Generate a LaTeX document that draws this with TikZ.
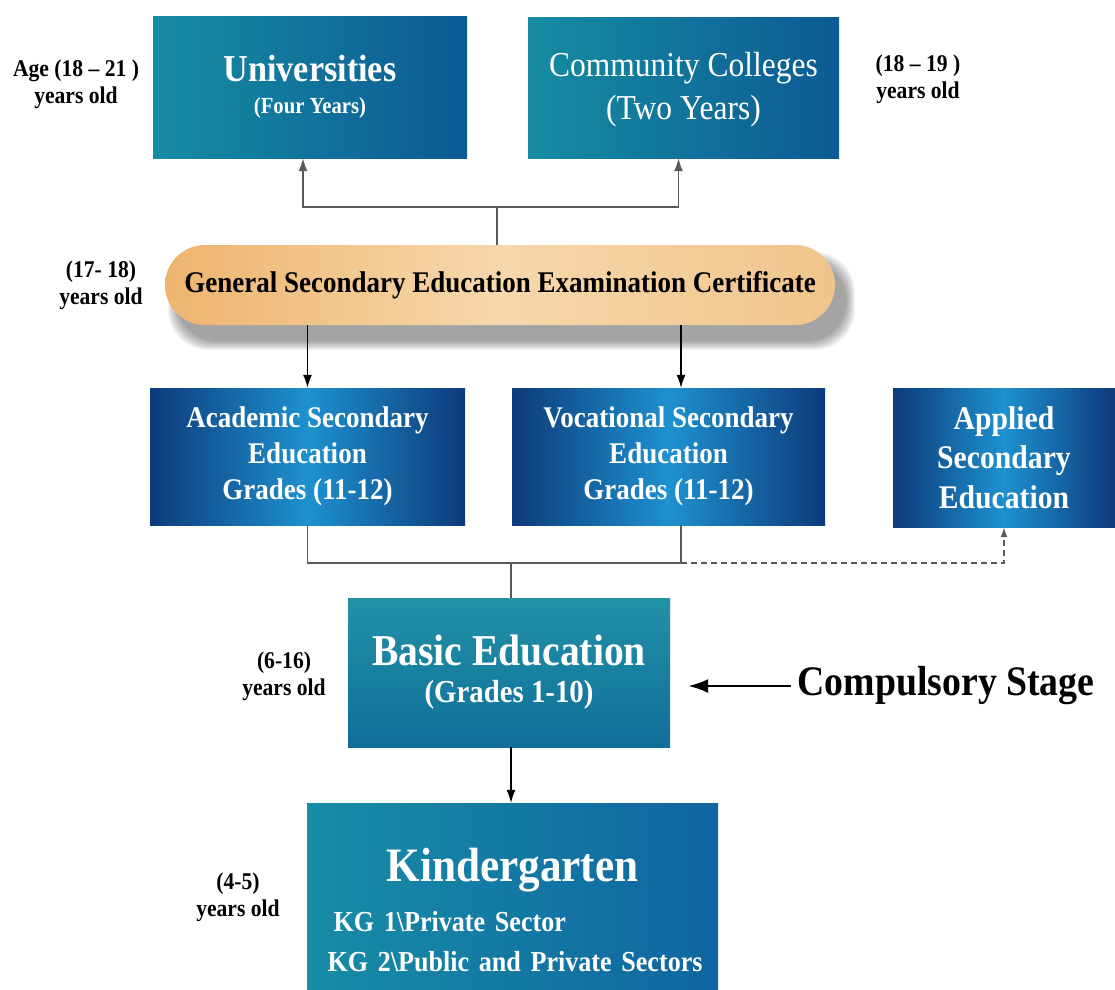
\documentclass[tikz,border=0pt]{standalone}
\usepackage{fontspec}
\setmainfont{Liberation Serif}[FakeStretch=0.9]
\usetikzlibrary{arrows.meta}
\definecolor{tealA}{RGB}{22,140,162}
\definecolor{blueA}{RGB}{12,90,148}
\definecolor{navyA}{RGB}{13,58,122}
\definecolor{skyA}{RGB}{30,145,207}
\definecolor{pillA}{RGB}{237,180,110}
\definecolor{pillB}{RGB}{247,216,172}
\definecolor{pillC}{RGB}{240,196,140}
\definecolor{lineA}{RGB}{90,90,90}
\newcommand{\fs}[1]{\fontsize{#1}{1.2\dimexpr#1pt\relax}\selectfont}
\begin{document}
\begin{tikzpicture}[x=1pt,y=-1pt,
   tealbox/.style={left color=tealA,right color=blueA,text=white,align=center,inner sep=0pt},
   navybox/.style={left color=navyA,right color=navyA,middle color=skyA,text=white,align=center,inner sep=0pt},
   age/.style={align=center,font=\bfseries\fs{24}},
   conn/.style={lineA,line width=1.5pt},
   tip/.style={-{Latex[length=13pt,width=9pt]}},
   arr/.style={black,line width=1.3pt,tip}]
   \useasboundingbox (0,0) rectangle (1115,989);
   % top level
   \node [tealbox,minimum width=314,minimum height=142,font=\bfseries\fs{38}] (univ) at (310,87)
      {Universities\\[-14pt]{\fs{23}(Four Years)}};
   \node [tealbox,minimum width=311,minimum height=141,font=\fs{35}] (coll) at (683.5,87.5)
      {Community Colleges\\[1pt](Two Years)\\[-38pt]};
   \node [age] (ageuniv) at (76,84) {Age (18 -- 21 )\\[-2pt]years old};
   \node [age] (agecoll) at (918,79) {(18 -- 19 )\\[-2pt]years old};
   % certificate, soft shadow first
   \foreach \i in {0,...,9}
      \fill [black,opacity=0.045,rounded corners=40]
         (168+\i,252+\i) rectangle (855-\i,350-\i);
   \node [rounded corners=40,left color=pillA,right color=pillC,middle color=pillB,
      minimum width=670,minimum height=80,inner sep=0pt,
      font=\bfseries\fs{30}] (cert) at (500,285)
      {General Secondary Education Examination Certificate};
   \node [age] (agecert) at (101,285) {(17- 18)\\[-2pt]years old};
   \coordinate (topsplit) at (497,207);
   \draw [conn] (cert.north -| topsplit) -- (topsplit);
   \draw [conn,tip] (topsplit) -| ([xshift=-7]univ.south);
   \draw [conn,tip] (topsplit) -| ([xshift=-5]coll.south);
   % secondary
   \node [navybox,minimum width=315,minimum height=137,font=\bfseries\fs{30}] (acad) at (307.5,456.5)
      {Academic Secondary\\Education\\Grades (11-12)};
   \node [navybox,minimum width=313,minimum height=137,font=\bfseries\fs{30}] (voc) at (668.5,456.5)
      {Vocational Secondary\\Education\\Grades (11-12)};
   \node [navybox,minimum width=222,minimum height=139,font=\bfseries\fs{33}] (appl) at (1004,457.5)
      {Applied\\Secondary\\Education};
   \coordinate (vocline) at (681,0);
   \draw [arr] (cert.south -| acad.north) -- (acad.north);
   \draw [arr] (cert.south -| vocline) -- (voc.north -| vocline);
   \coordinate (midjoin) at (511,563);
   \draw [conn] (acad.south) |- (midjoin);
   \draw [conn] (voc.south -| vocline) |- (midjoin);
   \draw [lineA,line width=1.5pt,dash pattern=on 6pt off 4pt,-{Latex[length=10pt,width=7pt]}]
      (midjoin -| vocline) -| (appl.south);
   % basic
   \node [top color=tealA!95!white,bottom color=blueA!60!tealA,text=white,align=center,inner sep=0pt,
      minimum width=322,minimum height=149,font=\bfseries\fs{44}] (basic) at (509,672.5)
      {Basic Education\\[-16pt]{\fs{32}(Grades 1-10)}};
   \draw [conn] (midjoin) -- (midjoin |- basic.north);
   \node [age] (agebasic) at (284,676) {(6-16)\\[-2pt]years old};
   \node [font=\bfseries\fs{42},inner sep=0pt] (comp) at (946,686) {Compulsory Stage};
   \draw [black,line width=2.5pt,-{Latex[length=20pt,width=14pt]},shorten >=18pt]
      ([xshift=-6]comp.west) -- (comp.west -| basic.east);
   % kindergarten
   \node [left color=tealA!90!skyA,right color=blueA!80!skyA,inner sep=0pt,
      minimum width=411,minimum height=186] (kinder) at (512.5,896) {};
   \node [text=white,align=left,text width=390,inner sep=0pt,font=\bfseries\fs{29}]
      (kindertext) at ([yshift=-14]kinder.center)
      {\makebox[\linewidth]{\fs{48}Kindergarten}\\[15pt]
       \mbox{\hspace*{16pt}KG 1\textbackslash Private Sector}\\[5pt]
       \mbox{\hspace*{10pt}KG 2\textbackslash Public and Private Sectors}};
   \draw [arr] (basic.south -| midjoin) -- (kinder.north -| midjoin);
   \node [age] (agekinder) at (238,897) {(4-5)\\[-2pt]years old};
\end{tikzpicture}
\end{document}
